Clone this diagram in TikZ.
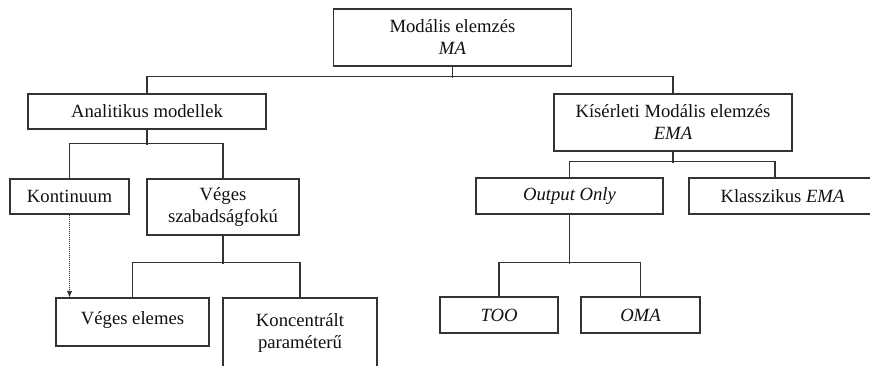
\documentclass[tikz,border=0pt]{standalone}
\usepackage{fontspec}
\setmainfont{Liberation Serif}
\usepackage{tikz}
\usetikzlibrary{arrows.meta,positioning,calc}
\definecolor{ink}{HTML}{111111}
\definecolor{edge}{HTML}{333333}
\tikzset{
  treebox/.style={rectangle,draw=edge,line width=0.8pt,fill=white,text=ink,
    align=center,font=\fontsize{14}{16.5}\selectfont,inner sep=0pt},
  treeline/.style={line width=0.8pt,color=edge},
  dotarr/.style={-{Latex[length=5pt,width=4pt]},densely dotted,line width=0.5pt,color=edge},
}

\begin{document}
\begin{tikzpicture}[x=0.75pt,y=-0.75pt]
  \useasboundingbox (0,0) rectangle (870,365);
  \clip (0,0) rectangle (870,365);

  \node[treebox,minimum width=179pt,minimum height=42.75pt] (ma) at (452.5,37.5) {Modális elemzés\\\textit{MA}};

  \node[treebox,minimum width=178.5pt,minimum height=26.25pt] (am) at (147,111.5) {Analitikus modellek};
  \node[treebox,minimum width=178.5pt,minimum height=42.75pt] (ema) at (673,122.5) {Kísérleti Modális elemzés\\\textit{EMA}};

  \node[treebox,minimum width=89.25pt,minimum height=26.25pt] (kont) at (69.5,196.5) {Kontinuum};
  \node[treebox,minimum width=114pt,minimum height=42pt] (vsz) at (223,207) {Véges\\szabadságfokú};
  \node[treebox,minimum width=114.75pt,minimum height=36pt,text depth=6pt] (ve) at (132.5,322) {Véges elemes};
  \node[treebox,minimum width=115.5pt,minimum height=52.5pt] (kp) at (300,333) {Koncentrált\\paraméterű};

  \node[treebox,minimum width=140.25pt,minimum height=27pt] (oo) at (569.5,196) {\textit{Output Only}};
  \node[treebox,minimum width=140.25pt,minimum height=27pt] (kl) at (782.5,196) {Klasszikus \textit{EMA}};
  \node[treebox,minimum width=88.5pt,minimum height=27pt] (too) at (499,315) {\textit{TOO}};
  \node[treebox,minimum width=89.25pt,minimum height=27pt] (oma) at (640.5,315) {\textit{OMA}};

  % tree branches
  \draw[treeline] (ma.south) -- ++(0,11);
  \draw[treeline] (am.north) -- ++(0,-17) -| (ema.north);
  \draw[treeline] (am.south) -- ++(0,15);
  \draw[treeline] (kont.north) -- ++(0,-35) -| (vsz.north);
  \draw[treeline] (vsz.south) -- ++(0,28);
  \draw[treeline] (ve.north) -- ++(0,-35) -| (kp.north);
  \draw[treeline] (ema.south) -- ++(0,11);
  \draw[treeline] (oo.north) -- ++(0,-16) -| ($(kl.north)+(-7.5,0)$);
  \draw[treeline] (oo.south) -- ++(0,49);
  \draw[treeline] (too.north) -- ++(0,-34) -| (oma.north);

  \draw[dotarr] (kont.south) -- (kont.south |- ve.north);
\end{tikzpicture}
\end{document}
